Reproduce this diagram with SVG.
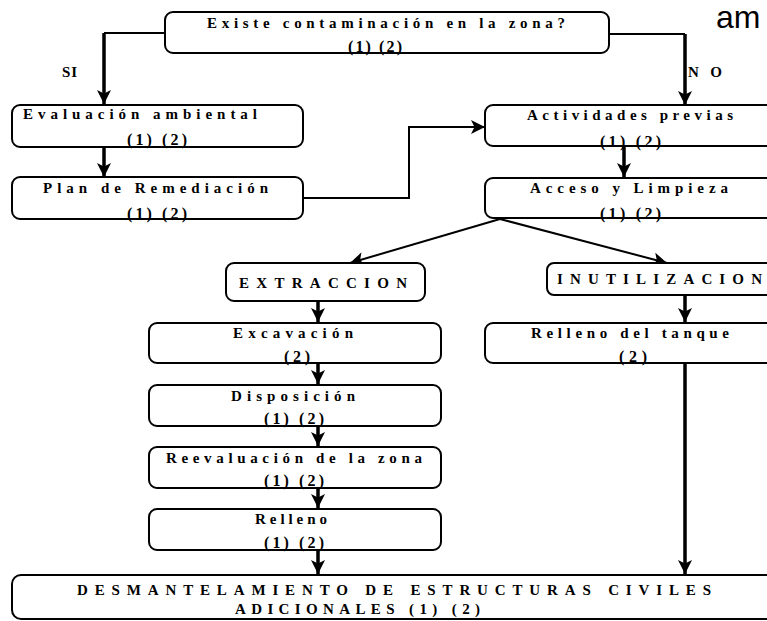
<svg xmlns="http://www.w3.org/2000/svg" width="767" height="621" viewBox="0 0 767 621">
<style>
.box{fill:#fff;stroke:#000;stroke-width:2}
.t{font-family:"Liberation Serif","Times New Roman",serif;font-weight:bold;font-size:15px;fill:#000}
.n{font-family:"Liberation Serif","Times New Roman",serif;font-weight:bold;font-size:16px;fill:#000}
.big{font-family:"Liberation Serif","Times New Roman",serif;font-weight:bold;font-size:15px;fill:#000}
.c{fill:none;stroke:#000;stroke-width:2}
.ct{fill:none;stroke:#000;stroke-width:3.5}
</style>
<defs>
<marker id="ah" viewBox="0 0 14 14" refX="14" refY="7" markerWidth="14" markerHeight="14" markerUnits="userSpaceOnUse" orient="auto">
<path d="M0,0 L14,7 L0,14 L3.5,7 z" fill="#000"/>
</marker>
</defs>
<rect width="767" height="621" fill="#fff"/>
<text x="716" y="28" font-family="Liberation Sans,Arial,sans-serif" font-size="32" fill="#000">am</text>

<g id="connectors">
<path class="c" d="M165,33 H104"/>
<path class="ct" d="M104,33 V104" marker-end="url(#ah)"/>
<path class="c" d="M609,34 H685"/>
<path class="ct" d="M685,34 V105" marker-end="url(#ah)"/>
<path class="ct" d="M104,147 V177" marker-end="url(#ah)"/>
<path class="c" d="M303,198 H409 V127 H485" marker-end="url(#ah)"/>
<path class="ct" d="M624,146 V177" marker-end="url(#ah)"/>
<path class="c" stroke-width="2.5" d="M500,219 L350,263" marker-end="url(#ah)"/>
<path class="c" stroke-width="2.5" d="M500,219 L667,263" marker-end="url(#ah)"/>
<path class="ct" d="M318,301 V322" marker-end="url(#ah)"/>
<path class="ct" d="M685,295 V322" marker-end="url(#ah)"/>
<path class="ct" d="M318,363 V384" marker-end="url(#ah)"/>
<path class="ct" d="M318,426 V446" marker-end="url(#ah)"/>
<path class="ct" d="M318,488 V508" marker-end="url(#ah)"/>
<path class="ct" d="M318,550 V574" marker-end="url(#ah)"/>
<path class="ct" d="M685,363 V574" marker-end="url(#ah)"/>
<text class="t" x="62" y="77" textLength="15" lengthAdjust="spacing">SI</text>
<text class="t" x="688" y="77" textLength="34" lengthAdjust="spacing">NO</text>
</g>

<g id="n_existe">
<rect class="box" x="165" y="12" width="444" height="41" rx="8"/>
<text class="t" x="207" y="28" textLength="358" lengthAdjust="spacing">Existe contaminación en la zona?</text>
<text class="n" x="348" y="52" textLength="54" lengthAdjust="spacing">(1) (2)</text>
</g>

<g id="n_evaluacion">
<rect class="box" x="12" y="105" width="291" height="42" rx="8"/>
<text class="t" x="23" y="119" textLength="234" lengthAdjust="spacing">Evaluación ambiental</text>
<text class="n" x="127" y="145" textLength="60" lengthAdjust="spacing">(1) (2)</text>
</g>

<g id="n_plan">
<rect class="box" x="12" y="177" width="291" height="42" rx="8"/>
<text class="t" x="43" y="193" textLength="225" lengthAdjust="spacing">Plan de Remediación</text>
<text class="n" x="127" y="219" textLength="60" lengthAdjust="spacing">(1) (2)</text>
</g>

<g id="n_actividades">
<rect class="box" x="485" y="105" width="300" height="41" rx="8"/>
<text class="t" x="527" y="120" textLength="206" lengthAdjust="spacing">Actividades previas</text>
<text class="n" x="600" y="147" textLength="61" lengthAdjust="spacing">(1) (2)</text>
</g>

<g id="n_acceso">
<rect class="box" x="485" y="178" width="300" height="40" rx="8"/>
<text class="t" x="530" y="193" textLength="198" lengthAdjust="spacing">Acceso y Limpieza</text>
<text class="n" x="600" y="219" textLength="61" lengthAdjust="spacing">(1) (2)</text>
</g>

<g id="n_extraccion">
<rect class="box" x="226" y="263" width="199" height="38" rx="8"/>
<text class="t" x="239" y="288" textLength="168" lengthAdjust="spacing">EXTRACCION</text>
</g>

<g id="n_inutilizacion">
<rect class="box" x="547" y="263" width="240" height="32" rx="7"/>
<text class="t" x="557" y="284" textLength="205" lengthAdjust="spacing">INUTILIZACION</text>
</g>

<g id="n_excavacion">
<rect class="box" x="149" y="323" width="292" height="40" rx="8"/>
<text class="t" x="233" y="338" textLength="120" lengthAdjust="spacing">Excavación</text>
<text class="n" x="284" y="362" textLength="26" lengthAdjust="spacing">(2)</text>
</g>

<g id="n_tanque">
<rect class="box" x="485" y="323" width="300" height="40" rx="8"/>
<text class="t" x="531" y="338" textLength="198" lengthAdjust="spacing">Relleno del tanque</text>
<text class="n" x="619" y="362" textLength="28" lengthAdjust="spacing">(2)</text>
</g>

<g id="n_disposicion">
<rect class="box" x="149" y="385" width="292" height="41" rx="8"/>
<text class="t" x="231" y="401" textLength="124" lengthAdjust="spacing">Disposición</text>
<text class="n" x="264" y="424" textLength="60" lengthAdjust="spacing">(1) (2)</text>
</g>

<g id="n_reevaluacion">
<rect class="box" x="149" y="447" width="292" height="41" rx="8"/>
<text class="t" x="166" y="463" textLength="256" lengthAdjust="spacing">Reevaluación de la zona</text>
<text class="n" x="264" y="486" textLength="60" lengthAdjust="spacing">(1) (2)</text>
</g>

<g id="n_relleno">
<rect class="box" x="149" y="509" width="292" height="41" rx="8"/>
<text class="t" x="255" y="524" textLength="72" lengthAdjust="spacing">Relleno</text>
<text class="n" x="264" y="548" textLength="60" lengthAdjust="spacing">(1) (2)</text>
</g>

<g id="n_desmantelamiento">
<rect class="box" x="12" y="575" width="780" height="44" rx="9"/>
<text class="big" x="77" y="595" textLength="634" lengthAdjust="spacing">DESMANTELAMIENTO DE ESTRUCTURAS CIVILES</text>
<text class="big" x="235" y="614" textLength="245" lengthAdjust="spacing">ADICIONALES   (1) (2)</text>
</g>
</svg>
